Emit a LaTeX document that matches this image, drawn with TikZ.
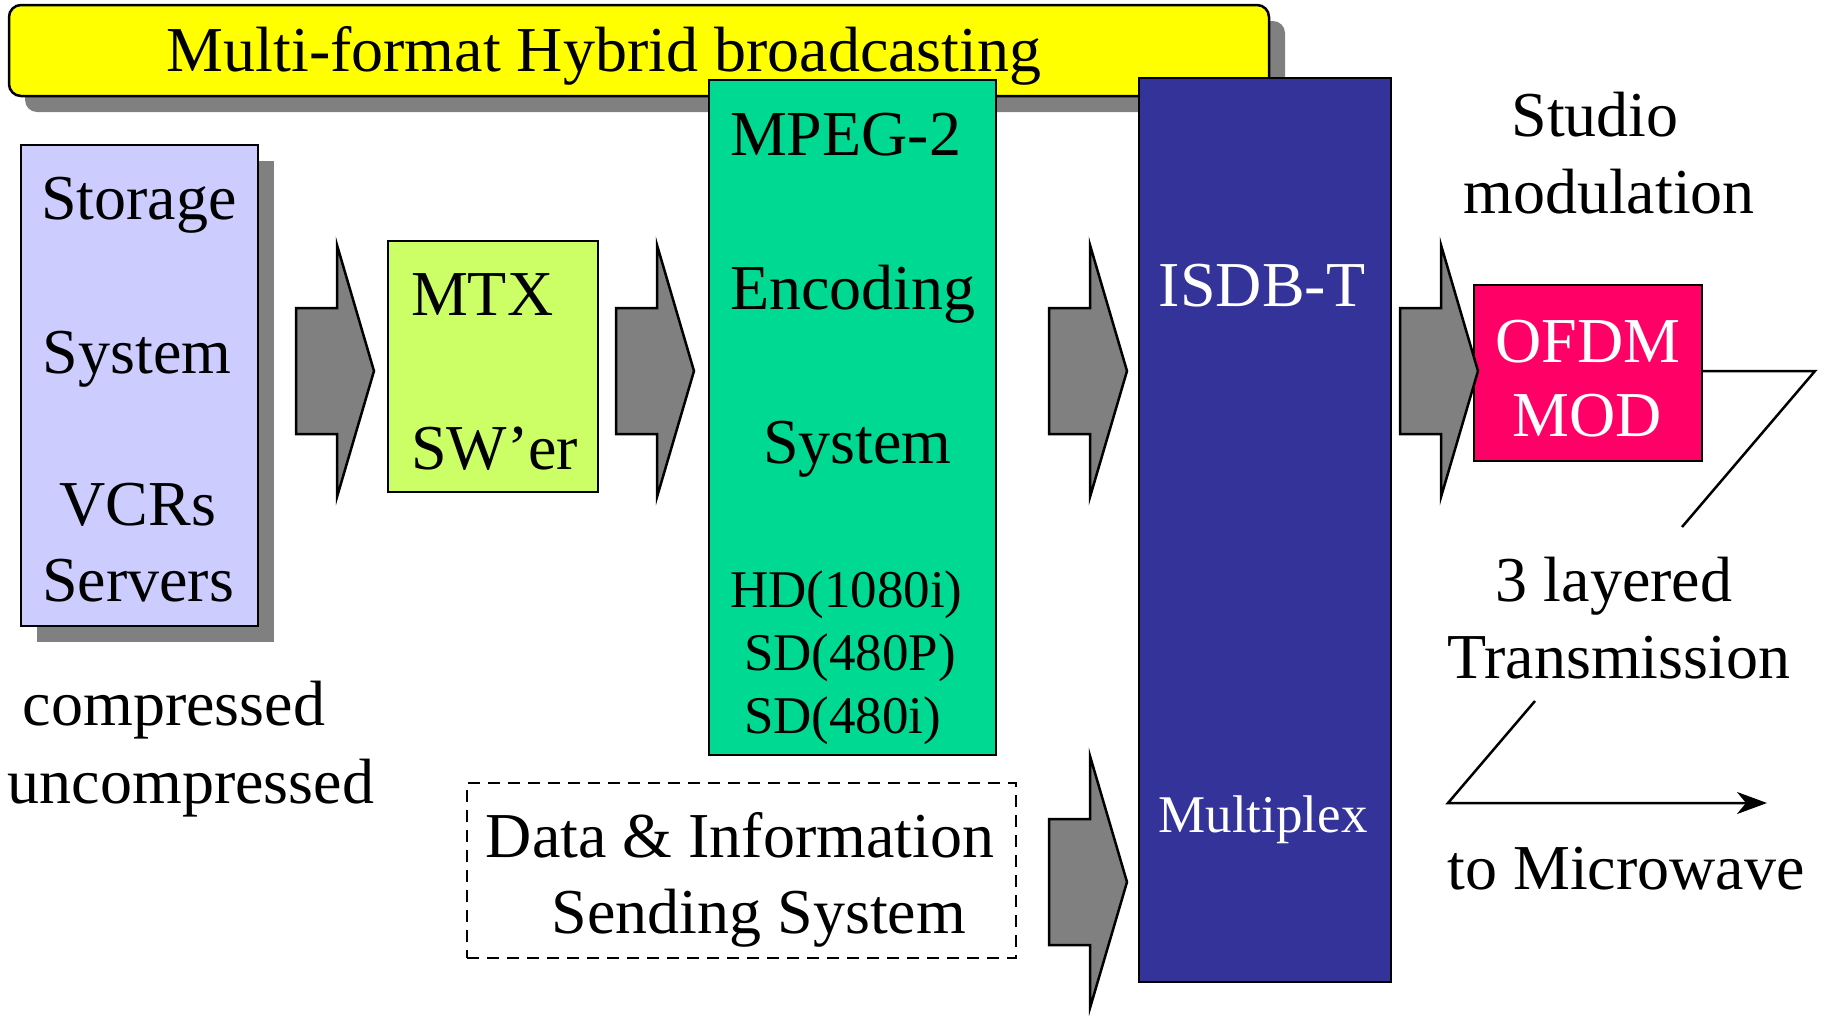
\documentclass[tikz,border=0pt]{standalone}
\usepackage{fontspec}
\setmainfont{Liberation Serif}
\usetikzlibrary{arrows.meta,shadows}
\definecolor{titleyellow}{RGB}{255,255,0}
\definecolor{storeblue}{RGB}{204,204,255}
\definecolor{mtxgreen}{RGB}{204,255,102}
\definecolor{encgreen}{RGB}{0,217,145}
\definecolor{muxblue}{RGB}{51,51,153}
\definecolor{modpink}{RGB}{255,0,102}
\definecolor{shadowgray}{RGB}{128,128,128}
\tikzset{
  blockarrow/.pic={
    \draw[line width=2.5pt, fill=shadowgray, line join=miter]
      (0,-63) -- (41,-63) -- (41,-126) -- (78,0) -- (41,126) -- (41,63) -- (0,63) -- cycle;
  }
}
\begin{document}
\begin{tikzpicture}[x=1pt,y=-1pt,
  every node/.style={inner sep=0pt, outer sep=0pt},
  box/.style={draw=black, line width=2.5pt, rectangle},
  boxshadow/.style={general shadow={fill=shadowgray, shadow xshift=16pt, shadow yshift=-16pt}},
  lbl/.style={font=\fontsize{64}{64}\selectfont, anchor=base},
  lblw/.style={lbl, anchor=base west},
  small/.style={font=\fontsize{53}{53}\selectfont, anchor=base},
  smallw/.style={small, anchor=base west},
  link/.style={line width=2.5pt}
]
\useasboundingbox (0,0) rectangle (1829,1015);

% title banner
\node[box, boxshadow, rounded corners=12pt, fill=titleyellow,
      minimum width=1260pt, minimum height=91pt] (title) at (639,50.5) {};
\node[lbl] (titletxt) at (604,71) {Multi-format Hybrid broadcasting};

% storage system
\node[box, boxshadow, fill=storeblue, minimum width=237pt, minimum height=481pt] (storage) at (139.5,385.5) {};
\node[lbl] (st1) at (139,219) {Storage};
\node[lbl] (st2) at (137,373) {System};
\node[lbl] (st3) at (138,525) {VCRs};
\node[lbl] (st4) at (138,601) {Servers};
\node[lbl] (cmp1) at (174,725) {compressed};
\node[lbl] (cmp2) at (191,803) {uncompressed};

% matrix switcher
\node[box, fill=mtxgreen, minimum width=210pt, minimum height=251pt] (mtx) at (493,366.5) {};
\node[lblw] (mtx1) at (411,315) {MTX};
\node[lblw] (mtx2) at (411,469) {SW’er};

% MPEG-2 encoder
\node[box, fill=encgreen, minimum width=287pt, minimum height=675pt] (enc) at (852.5,417.5) {};
\node[lblw] (enc1) at (730,155) {MPEG-2};
\node[lblw] (enc2) at (730,309) {Encoding};
\node[lblw] (enc3) at (763,463) {System};
\node[smallw] (enc4) at (730,607) {HD(1080i)};
\node[smallw] (enc5) at (744,670) {SD(480P)};
\node[smallw] (enc6) at (744,733) {SD(480i)};

% data & information sending system
\node[draw=black, line width=2.5pt, dash pattern=on 12pt off 8pt,
      minimum width=549pt, minimum height=175pt] (data) at (741.5,870.5) {};
\node[lbl] (data1) at (740,857) {Data \& Information};
\node[lbl] (data2) at (759,933) {Sending System};

% ISDB-T multiplexer
\node[box, fill=muxblue, minimum width=252pt, minimum height=904pt] (mux) at (1265,530) {};
\node[lbl, text=white] (mux1) at (1262,306) {ISDB-T};
\node[small, text=white] (mux2) at (1263,832) {Multiplex};

% OFDM modulator
\node[lbl] (studio1) at (1595,136) {Studio};
\node[lbl] (studio2) at (1609,213) {modulation};
\node[box, fill=modpink, minimum width=228pt, minimum height=176pt] (ofdm) at (1588,373) {};
\node[lbl, text=white] (ofdm1) at (1588,362) {OFDM};
\node[lbl, text=white] (ofdm2) at (1587,436) {MOD};

% block arrows between stages
\pic (a1) at (296,371) {blockarrow};
\pic (a2) at (616,371) {blockarrow};
\pic (a3) at (1049,371) {blockarrow};
\pic (a4) at (1049,882) {blockarrow};
\pic (a5) at (1400,371) {blockarrow};

% output path to microwave
\node[lbl] (out1) at (1614,601) {3 layered};
\node[lbl] (out2) at (1619,678) {Transmission};
\node[lbl] (out3) at (1626,889) {to Microwave};
\coordinate (z1) at (1815,371);
\coordinate (z2) at (1682,527);
\coordinate (z3) at (1535,701);
\coordinate (z4) at (1448,803);
\coordinate (z5) at (1767,803);
\draw[link, line join=miter] (ofdm.east |- z1) -- (z1) -- (z2);
\draw[link, line join=miter, -{Stealth[length=30pt,width=22pt,inset=9pt]}] (z3) -- (z4) -- (z5);
\end{tikzpicture}
\end{document}
